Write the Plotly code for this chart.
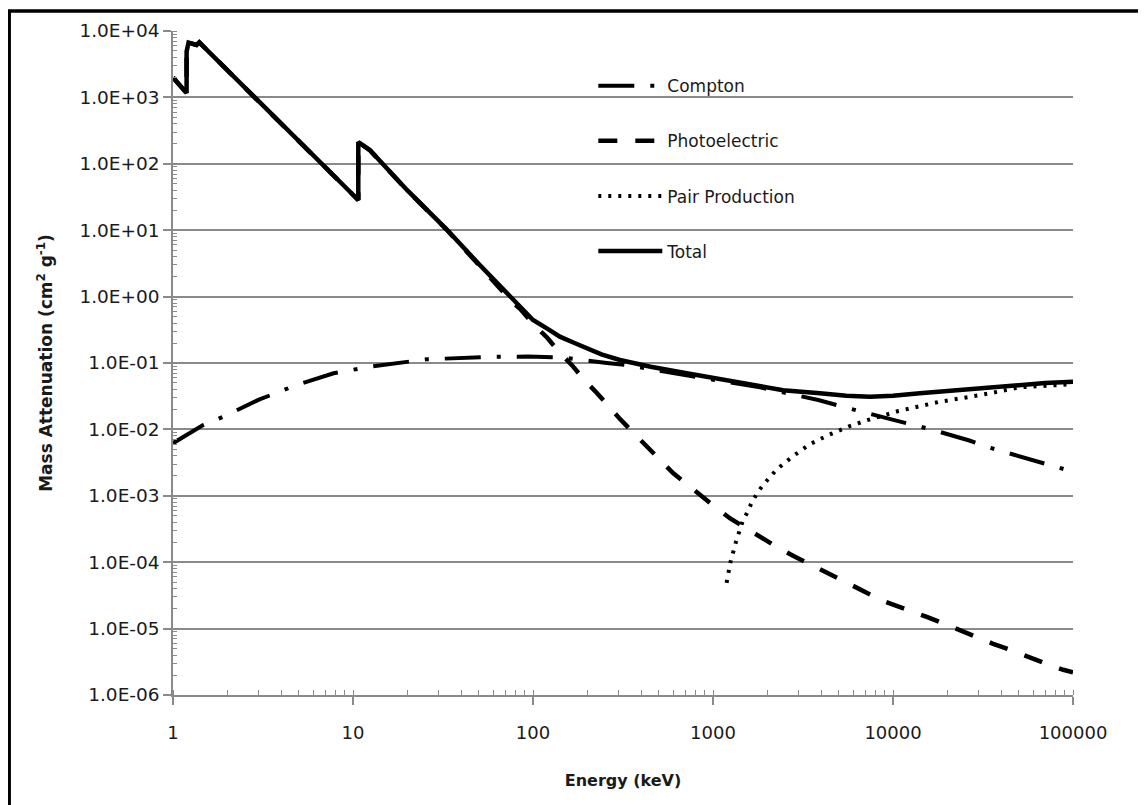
import plotly.graph_objects as go

# ---- data ----
energy_total = [1.0, 1.19, 1.19, 1.22, 1.35, 1.40, 3.0, 10.7, 10.7, 12.4, 20, 33, 50, 75,
                100, 120, 141, 170, 199, 240, 304, 450, 714, 1000, 1675, 2450, 3930, 5500,
                7450, 10000, 14100, 25600, 44700, 70000, 100000]
mu_total = [2000, 1165, 4900, 6680, 6150, 6760, 870, 28.5, 213, 161, 40, 10.4, 3.1, 1.0,
            0.445, 0.33, 0.249, 0.20, 0.166, 0.135, 0.111, 0.088, 0.070, 0.060, 0.0467, 0.039,
            0.0349, 0.032, 0.0311, 0.032, 0.0349, 0.040, 0.0467, 0.050, 0.052]

energy_photo = [1.0, 1.19, 1.19, 1.22, 1.35, 1.40, 3.0, 10.7, 10.7, 12.4, 20, 33, 50, 75, 85,
                100, 120, 140, 165, 190, 225, 260, 300, 370, 435, 510, 600, 730, 860, 1040,
                1240, 1540, 1840, 2260, 2800, 3460, 4190, 6000, 8830, 12400, 15400, 19000,
                23600, 29200, 36000, 44700, 55300, 69900, 88300, 100000]
mu_photo = [1990, 1160, 4890, 6670, 6140, 6750, 865, 28.4, 212, 160, 39.8, 10.3, 3.0, 0.88,
            0.65, 0.39, 0.24, 0.145, 0.092, 0.058, 0.036, 0.023, 0.0150, 0.0083, 0.0054,
            0.0034, 0.0022, 0.00143, 0.00098, 6.6e-4, 4.6e-4, 3.2e-4, 2.35e-4, 1.7e-4, 1.24e-4,
            9.2e-5, 7.2e-5, 4.4e-5, 2.6e-5, 1.9e-5, 1.5e-5, 1.2e-5, 9.4e-6, 7.3e-6, 5.9e-6,
            4.8e-6, 3.8e-6, 3.0e-6, 2.4e-6, 2.2e-6]

energy_compton = [1.0, 1.47, 1.9, 3.0, 4.8, 7.8, 12.7, 25.7, 57.7, 94, 147, 200, 257, 331, 530,
                  1000, 1824, 2356, 3846, 4907, 6288, 10040, 13090, 16750, 26540, 33830, 43700,
                  69900, 100000]
mu_compton = [0.0062, 0.0116, 0.0155, 0.028, 0.046, 0.070, 0.089, 0.1135, 0.124, 0.125, 0.121,
              0.111, 0.100, 0.093, 0.074, 0.056, 0.043, 0.037, 0.0277, 0.0231, 0.0196, 0.0139,
              0.0116, 0.0098, 0.0068, 0.0054, 0.0044, 0.0030, 0.0023]

energy_pair = [1190, 1250, 1340, 1460, 1550, 1640, 1760, 1900, 2260, 2800, 3460, 4370, 5650,
               7290, 10700, 14100, 18200, 23600, 34600, 50000, 70000, 100000]
mu_pair = [4.9e-5, 1.0e-4, 2.0e-4, 4.1e-4, 5.6e-4, 7.9e-4, 1.1e-3, 1.46e-3, 2.5e-3, 4.0e-3,
           6.0e-3, 8.2e-3, 1.1e-2, 1.39e-2, 1.89e-2, 2.27e-2, 2.61e-2, 2.93e-2, 3.49e-2, 0.043,
           0.046, 0.048]

x_tickvals = [1, 10, 100, 1000, 10000, 100000]
x_ticktext = ["1", "10", "100", "1000", "10000", "100000"]
y_tickvals = [1e-6, 1e-5, 1e-4, 1e-3, 1e-2, 1e-1, 1e0, 1e1, 1e2, 1e3, 1e4]
y_ticktext = ["1.0E-06", "1.0E-05", "1.0E-04", "1.0E-03", "1.0E-02", "1.0E-01",
              "1.0E+00", "1.0E+01", "1.0E+02", "1.0E+03", "1.0E+04"]

FONT = "DejaVu Sans"
GRAY = "#8a8a8a"
TXT = "#1a1a1a"

fig = go.Figure()
fig.add_trace(go.Scatter(x=energy_compton, y=mu_compton, mode="lines", name="Compton",
                         legendgroup="c",
                         line=dict(color="black", width=4, dash="36px,16px,4px,16px")))
fig.add_trace(go.Scatter(x=energy_photo, y=mu_photo, mode="lines", name="Photoelectric",
                         legendgroup="p",
                         line=dict(color="black", width=4.5, dash="19px,18px")))
fig.add_trace(go.Scatter(x=energy_pair, y=mu_pair, mode="lines", name="Pair Production",
                         legendgroup="pp",
                         line=dict(color="black", width=4, dash="3px,7px")))
fig.add_trace(go.Scatter(x=energy_total, y=mu_total, mode="lines", name="Total",
                         legendgroup="t",
                         line=dict(color="black", width=4.5)))

fig.update_layout(
    width=1138, height=797, autosize=False,
    margin=dict(l=165, r=73, t=23, b=110),
    paper_bgcolor="white", plot_bgcolor="white",
    font=dict(family=FONT, color=TXT),
    showlegend=True,
    legend=dict(x=0.467, y=0.944, xanchor="left", yanchor="top",
                bgcolor="rgba(0,0,0,0)", font=dict(size=17, family=FONT, color=TXT),
                itemwidth=64, tracegroupgap=30, traceorder="grouped"),
    shapes=[dict(type="rect", xref="paper", yref="paper",
                 x0=-0.182, x1=1.3, y0=-0.3, y1=1.0301,
                 line=dict(color="black", width=3.5), layer="below")],
)

fig.update_xaxes(
    type="log", range=[0, 5],
    tickvals=x_tickvals, ticktext=x_ticktext,
    ticks="outside", ticklen=8, tickwidth=1.5, tickcolor=GRAY,
    showline=True, linecolor=GRAY, linewidth=1.5,
    showgrid=False, zeroline=False,
    tickfont=dict(size=18, family=FONT, color=TXT),
    ticklabelstandoff=13,
    minor=dict(ticks="inside", ticklen=5, tickwidth=1.2, tickcolor=GRAY, dtick="D1",
               showgrid=False),
    title=dict(text="<b>Energy (keV)</b>", font=dict(size=16, family=FONT, color=TXT),
               standoff=32),
)
fig.update_yaxes(
    type="log", range=[-6, 4],
    tickvals=y_tickvals, ticktext=y_ticktext,
    ticks="outside", ticklen=8, tickwidth=1.5, tickcolor=GRAY,
    showline=True, linecolor=GRAY, linewidth=1.5,
    showgrid=True, gridcolor=GRAY, gridwidth=1.5, zeroline=False,
    tickfont=dict(size=18.5, family=FONT, color=TXT),
    ticklabelstandoff=0,
    minor=dict(ticks="inside", ticklen=4, tickwidth=1.2, tickcolor=GRAY, dtick="D1",
               showgrid=False),
    title=dict(text="<b>Mass Attenuation (cm<sup>2</sup> g<sup>-1</sup>)</b>",
               font=dict(size=17, family=FONT, color=TXT), standoff=22),
)

fig.write_html("out.html")
